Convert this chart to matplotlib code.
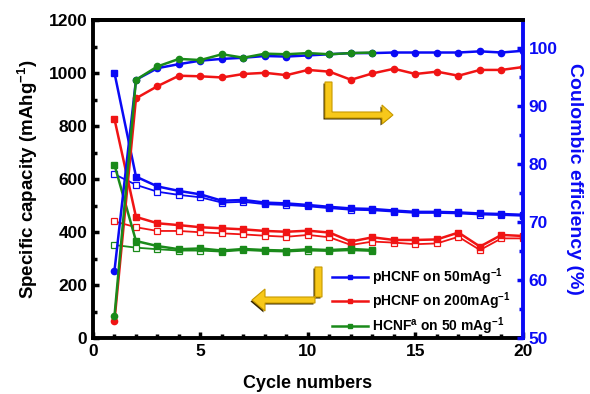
import numpy as np
import matplotlib.pyplot as plt
from matplotlib.lines import Line2D
from matplotlib.patches import Polygon

plt.rcParams['font.family'] = ['Liberation Sans', 'DejaVu Sans']
plt.rcParams['font.weight'] = 'bold'
plt.rcParams['mathtext.fontset'] = 'custom'
plt.rcParams['mathtext.rm'] = 'Liberation Sans'
plt.rcParams['mathtext.default'] = 'rm'

# cycle numbers
cycles = np.arange(1, 21)
cycles_h = np.arange(1, 14)

# pHCNF on 50 mA/g
blue_charge = [1000, 609, 572, 555, 542, 518, 521, 511, 508, 502,
               495, 489, 487, 481, 476, 476, 474, 470, 468, 465]
blue_dis = [618, 578, 552, 540, 531, 511, 514, 505, 502, 497,
            490, 484, 482, 477, 472, 472, 470, 466, 464, 461]
blue_ce = [61.6, 94.5, 96.5, 97.2, 97.8, 98.1, 98.3, 98.6, 98.5, 98.7,
           98.9, 99.1, 99.1, 99.2, 99.2, 99.2, 99.2, 99.4, 99.2, 99.5]

# pHCNF on 200 mA/g
red_charge = [826, 457, 433, 426, 418, 414, 410, 404, 401, 405,
              398, 364, 380, 370, 370, 372, 398, 345, 389, 385]
red_dis = [440, 418, 404, 404, 399, 395, 391, 386, 382, 389,
           380, 351, 364, 360, 354, 357, 382, 332, 376, 376]
red_ce = [53.0, 91.3, 93.4, 95.2, 95.1, 94.9, 95.5, 95.7, 95.3, 96.2,
          95.9, 94.5, 95.6, 96.4, 95.5, 95.9, 95.2, 96.2, 96.2, 96.7]

# HCNF on 50 mA/g
green_charge = [653, 366, 347, 335, 338, 330, 336, 332, 330, 335, 332, 336, 332]
green_dis = [351, 341, 335, 330, 330, 326, 332, 328, 326, 330, 328, 331, 328]
green_ce = [53.8, 94.5, 96.8, 98.1, 97.9, 98.9, 98.3, 99.0, 98.9, 99.1, 98.9, 99.1, 99.2]

blue, red, green = '#0a0af5', '#f01414', '#1a8a1a'
labels = ['pHCNF on 50mAg$^{-1}$', 'pHCNF on 200mAg$^{-1}$', 'HCNF$^{a}$ on 50 mAg$^{-1}$']

fig = plt.figure(figsize=(5.9, 3.94), dpi=100)
ax = fig.add_axes([0.1576, 0.1421, 0.7288, 0.8071])
ax2 = ax.twinx()

series = [(cycles, blue_charge, blue_dis, blue_ce, blue),
          (cycles, red_charge, red_dis, red_ce, red),
          (cycles_h, green_charge, green_dis, green_ce, green)]
for x, ch, dis, ce, c in series:
    ax.plot(x, dis, '-s', color=c, lw=1.3, ms=5, mfc='white', mec=c, mew=0.9)
    ax.plot(x, ch, '-s', color=c, lw=1.8, ms=5)
    ax2.plot(x, ce, '-o', color=c, lw=1.8, ms=4.5)

ax.set_xlim(0, 20)
ax.set_ylim(0, 1200)
ax2.set_ylim(50, 104.8)
ax.set_xticks([0, 5, 10, 15, 20])
ax.set_xticks(np.arange(0, 21, 1), minor=True)
ax.set_yticks(np.arange(0, 1201, 200))
ax.set_yticks(np.arange(0, 1201, 100), minor=True)
ax2.set_yticks([50, 60, 70, 80, 90, 100])
ax2.set_yticks(np.arange(50, 105, 5), minor=True)

ax.tick_params(which='both', direction='in', top=False, right=False, width=2.5,
               labelsize=12.5, pad=4)
ax.tick_params(which='major', length=4)
ax.tick_params(which='minor', length=3)
ax2.tick_params(which='both', direction='in', colors=blue, width=2.5, labelsize=12.5, pad=4)
ax2.tick_params(which='major', length=4)
ax2.tick_params(which='minor', length=3)
for lab in ax.get_xticklabels() + ax.get_yticklabels() + ax2.get_yticklabels():
    lab.set_fontweight('bold')

for s in ['left', 'bottom', 'top']:
    ax.spines[s].set_linewidth(2.8)
ax2.spines['right'].set_color(blue)
ax2.spines['right'].set_linewidth(2.8)
ax2.spines['left'].set_visible(False)
ax2.spines['top'].set_linewidth(2.8)
ax2.spines['bottom'].set_visible(False)

ax.set_xlabel('Cycle numbers', fontsize=13, fontweight='bold', labelpad=12)
ax.set_ylabel('Specific capacity (mAhg$^{-1}$)', fontsize=13.5, fontweight='bold', labelpad=6)
ax2.set_ylabel('Coulombic efficiency (%)', fontsize=14, fontweight='bold', color=blue,
               rotation=270, labelpad=18)

handles = [Line2D([], [], color=c, lw=1.8, marker='s', ms=3.5) for c in (blue, red, green)]
ax2.legend(handles, labels, loc='lower right', bbox_to_anchor=(1.0, -0.035), frameon=False,
           fontsize=10, handlelength=2.6, handletextpad=0.3, labelspacing=0.2)


# yellow L-shaped arrows, drawn in reference pixel coordinates
def px(pts):
    return [(x / 590.0, 1 - y / 394.0) for x, y in pts]


up_arrow = [(325, 82), (332, 82), (332, 112), (382, 112), (382, 105), (393, 115),
            (382, 124), (382, 118), (325, 118)]
down_arrow = [(315, 267), (322, 267), (322, 297), (265, 297), (265, 289), (252, 300),
              (265, 311), (265, 303), (315, 303)]
for pts in (up_arrow, down_arrow):
    shadow = [(x - 1.5, y + 1.5) for x, y in pts]
    fig.patches.append(Polygon(px(shadow), closed=True, transform=fig.transFigure,
                               fc='#3a2a00', ec='none', zorder=5))
    fig.patches.append(Polygon(px(pts), closed=True, transform=fig.transFigure,
                               fc='#f7c81a', ec='#c89a00', lw=0.8, zorder=6))

fig.savefig('out.png', dpi=100)
